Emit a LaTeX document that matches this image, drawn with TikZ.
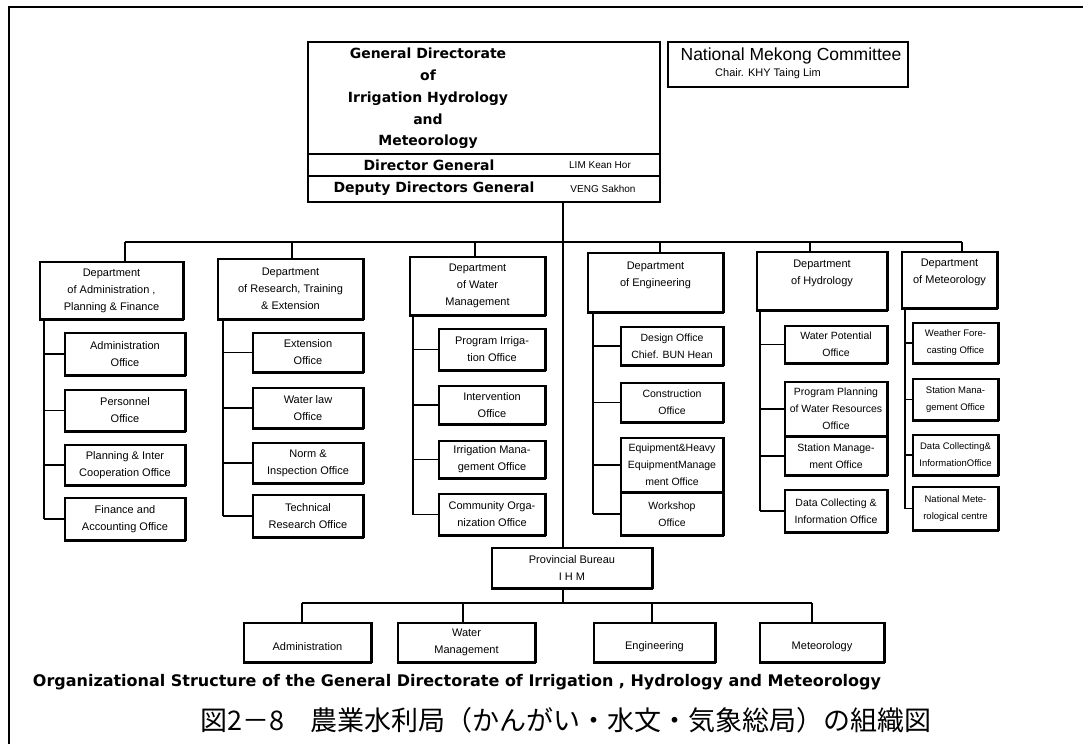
\documentclass[tikz,border=0pt]{standalone}
\usepackage{graphicx}
\usepackage{fontspec}
\setmainfont{Liberation Sans}
\newfontfamily\titlefont{DejaVu Sans}
\newfontfamily\jpfont{Noto Sans CJK JP}
\begin{document}
\begin{tikzpicture}[x=1pt,y=-1pt,
  box/.style={draw, line width=1.6pt, inner sep=0pt, align=center,
    font=\fontsize{11}{17}\selectfont,
    append after command={(\tikzlastnode.north east) edge[line width=2.8pt] (\tikzlastnode.south east)
                          (\tikzlastnode.south east) edge[line width=2.4pt] (\tikzlastnode.south west)}},
  narrow/.style={box, font=\fontsize{10.5}{17}\selectfont},
  tiny/.style={box, font=\fontsize{9.5}{17}\selectfont},
  plainbox/.style={draw, line width=2pt, inner sep=0pt},
  titletext/.style={inner sep=0pt, align=center, font=\titlefont\bfseries\fontsize{14}{21.75}\selectfont},
  nametext/.style={inner sep=0pt, font=\fontsize{10}{12}\selectfont},
  link/.style={line width=1.4pt},
  colline/.style={line width=2.4pt},
  dropline/.style={line width=2.8pt},
]
\useasboundingbox (0,0) rectangle (1083,744);

% frame
\draw[line width=1.2pt] (8,7) -- (1083,7);
\draw[line width=2.8pt] (9,6) -- (9,744);

% General Directorate
\node[plainbox, minimum width=352pt, minimum height=112pt] (gdtitle) at (484,98) {};
\node[plainbox, minimum width=352pt, minimum height=22pt] (gddir) at (484,165) {};
\node[plainbox, minimum width=352pt, minimum height=26pt] (gddep) at (484,189) {};
\node[titletext] (gdname) at (428,98.5) {General Directorate\\of\\Irrigation Hydrology\\and\\Meteorology};
\node[titletext] (gddirt) at (429,165) {Director General};
\node[nametext] (gddirn) at (600,165) {LIM Kean Hor};
\node[titletext] (gddept) at (434,189) {Deputy Directors General};
\node[nametext] (gddepn) at (603,189) {VENG Sakhon};

% National Mekong Committee
\node[plainbox, line width=1.8pt, minimum width=240pt, minimum height=45pt] (nmc) at (788,64.5) {};
\node[inner sep=0pt, font=\fontsize{17.5}{20}\selectfont] (nmct) at (791,56) {National Mekong Committee};
\node[inner sep=0pt, font=\fontsize{11}{13}\selectfont] (nmcc) at (768,74) {Chair. KHY Taing Lim};

% main bus
\coordinate (hub) at (563,242);
\coordinate (b1) at (125,242);
\coordinate (b2) at (292,242);
\coordinate (b3) at (475,242);
\coordinate (b4) at (660,242);
\coordinate (b5) at (810,242);
\coordinate (b6) at (962,242);
\draw[dropline] (gddep.south -| hub) -- (hub);
\draw[link] (b1) -- (b6);

% departments
\node[box, minimum width=143pt, minimum height=57pt] (d1) at (111.5,290.5) {Department\\of Administration ,\\Planning \& Finance};
\node[box, minimum width=145pt, minimum height=60pt] (d2) at (290.5,289) {Department\\of Research, Training\\\& Extension};
\node[box, minimum width=135pt, minimum height=58pt] (d3) at (477.5,286) {Department\\of Water\\Management};
\node[box, minimum width=135pt, minimum height=59pt] (d4) at (655.5,282.5) {Department\\of Engineering\\\mbox{}};
\node[box, minimum width=130pt, minimum height=58pt] (d5) at (822,281) {Department\\of Hydrology\\\mbox{}};
\node[box, minimum width=95pt, minimum height=56pt] (d6) at (949.5,280) {Department\\of Meteorology\\\mbox{}};
\foreach \b/\d in {b1/d1,b2/d2,b3/d3,b4/d4,b5/d5,b6/d6}
  \draw[dropline] (\b) -- (\b |- \d.north);

% column 1
\node[box, minimum width=120pt, minimum height=42pt] (o11) at (125,354) {Administration\\Office};
\node[box, minimum width=120pt, minimum height=41pt] (o12) at (125,410.5) {Personnel\\Office};
\node[box, minimum width=120pt, minimum height=40pt] (o13) at (125,465) {Planning \& Inter\\Cooperation Office};
\node[box, minimum width=120pt, minimum height=42pt] (o14) at (125,519) {Finance and\\Accounting Office};
% column 2
\node[box, minimum width=110pt, minimum height=39pt] (o21) at (308,352.5) {Extension\\Office};
\node[box, minimum width=110pt, minimum height=40pt] (o22) at (308,408) {Water law\\Office};
\node[box, minimum width=110pt, minimum height=40pt] (o23) at (308,463) {Norm \&\\Inspection Office};
\node[box, minimum width=110pt, minimum height=42pt] (o24) at (308,516) {Technical\\Research Office};
% column 3
\node[box, minimum width=106pt, minimum height=41pt] (o31) at (492,349.5) {Program Irriga-\\tion Office};
\node[box, minimum width=106pt, minimum height=38pt] (o32) at (492,405) {Intervention\\Office};
\node[box, minimum width=106pt, minimum height=37pt] (o33) at (492,459.5) {Irrigation Mana-\\gement Office};
\node[box, minimum width=106pt, minimum height=41pt] (o34) at (492,514.5) {Community Orga-\\nization Office};
% column 4
\node[narrow, minimum width=102pt, minimum height=38pt] (o41) at (672,346) {Design Office\\Chief. BUN Hean};
\node[narrow, minimum width=102pt, minimum height=39pt] (o42) at (672,402.5) {Construction\\Office};
\node[narrow, minimum width=102pt, minimum height=54pt] (o43) at (672,465) {Equipment\&Heavy\\EquipmentManage\\ment Office};
\node[narrow, minimum width=102pt, minimum height=42pt] (o44) at (672,514) {Workshop\\Office};
% column 5
\node[narrow, minimum width=102pt, minimum height=37pt] (o51) at (836,344.5) {Water Potential\\Office};
\node[narrow, minimum width=102pt, minimum height=54pt] (o52) at (836,409) {Program Planning\\of Water Resources\\Office};
\node[narrow, minimum width=102pt, minimum height=38pt] (o53) at (836,456) {Station Manage-\\ment Office};
\node[narrow, minimum width=102pt, minimum height=42pt] (o54) at (836,511) {Data Collecting \&\\Information Office};
% column 6
\node[tiny, minimum width=85pt, minimum height=40pt] (o61) at (955.5,343) {Weather Fore-\\casting Office};
\node[tiny, minimum width=85pt, minimum height=41pt] (o62) at (955.5,399.5) {Station Mana-\\gement Office};
\node[tiny, minimum width=85pt, minimum height=40pt] (o63) at (955.5,455) {Data Collecting\&\\InformationOffice};
\node[tiny, minimum width=85pt, minimum height=43pt] (o64) at (955.5,508.5) {National Mete-\\rological centre};

% column spines and ticks
\coordinate (s1) at (44,319);
\coordinate (s2) at (223,319);
\coordinate (s3) at (413,315);
\coordinate (s4) at (593,312);
\coordinate (s5) at (760,310);
\coordinate (s6) at (905,308);
\foreach \s/\a/\b/\c/\d in {s1/o11/o12/o13/o14, s2/o21/o22/o23/o24, s3/o31/o32/o33/o34,
                            s4/o41/o42/o43/o44, s5/o51/o52/o53/o54, s6/o61/o62/o63/o64}{
  \draw[colline] (\s) -- (\s |- \d.west);
  \foreach \o in {\a,\b,\c,\d}
    \draw[link] (\s |- \o.west) -- (\o.west);
}

% provincial bureau
\node[box, minimum width=160pt, minimum height=40pt] (pb) at (572,568) {Provincial Bureau\\I H M};
\draw[dropline] (hub) -- (hub |- pb.north);
\coordinate (lhub) at (563,603);
\coordinate (l1) at (302,603);
\coordinate (l2) at (463,603);
\coordinate (l3) at (652,603);
\coordinate (l4) at (812,603);
\draw[dropline] (pb.south -| lhub) -- (lhub);
\draw[link] (l1) -- (l4);

\node[box, minimum width=127pt, minimum height=39pt] (a1) at (307.5,642.5) {\mbox{}\\Administration};
\node[box, minimum width=137pt, minimum height=39pt] (a2) at (466.5,642.5) {Water\\Management};
\node[box, minimum width=121pt, minimum height=39pt] (a3) at (654.5,642.5) {\mbox{}\\Engineering};
\node[box, minimum width=124pt, minimum height=39pt] (a4) at (822,642.5) {\mbox{}\\Meteorology};
\foreach \l/\a in {l1/a1,l2/a2,l3/a3,l4/a4}
  \draw[dropline] (\l) -- (\l |- \a.north);

% captions
\node[inner sep=0pt, font=\titlefont\bfseries] (cap1) at (457,682)
  {\resizebox{848pt}{!}{Organizational Structure of the General Directorate of Irrigation , Hydrology and Meteorology}};
\node[inner sep=0pt, font=\jpfont\fontsize{27}{30}\selectfont] (cap2) at (566,720)
  {図2－8　農業水利局（かんがい・水文・気象総局）の組織図};
\end{tikzpicture}
\end{document}
